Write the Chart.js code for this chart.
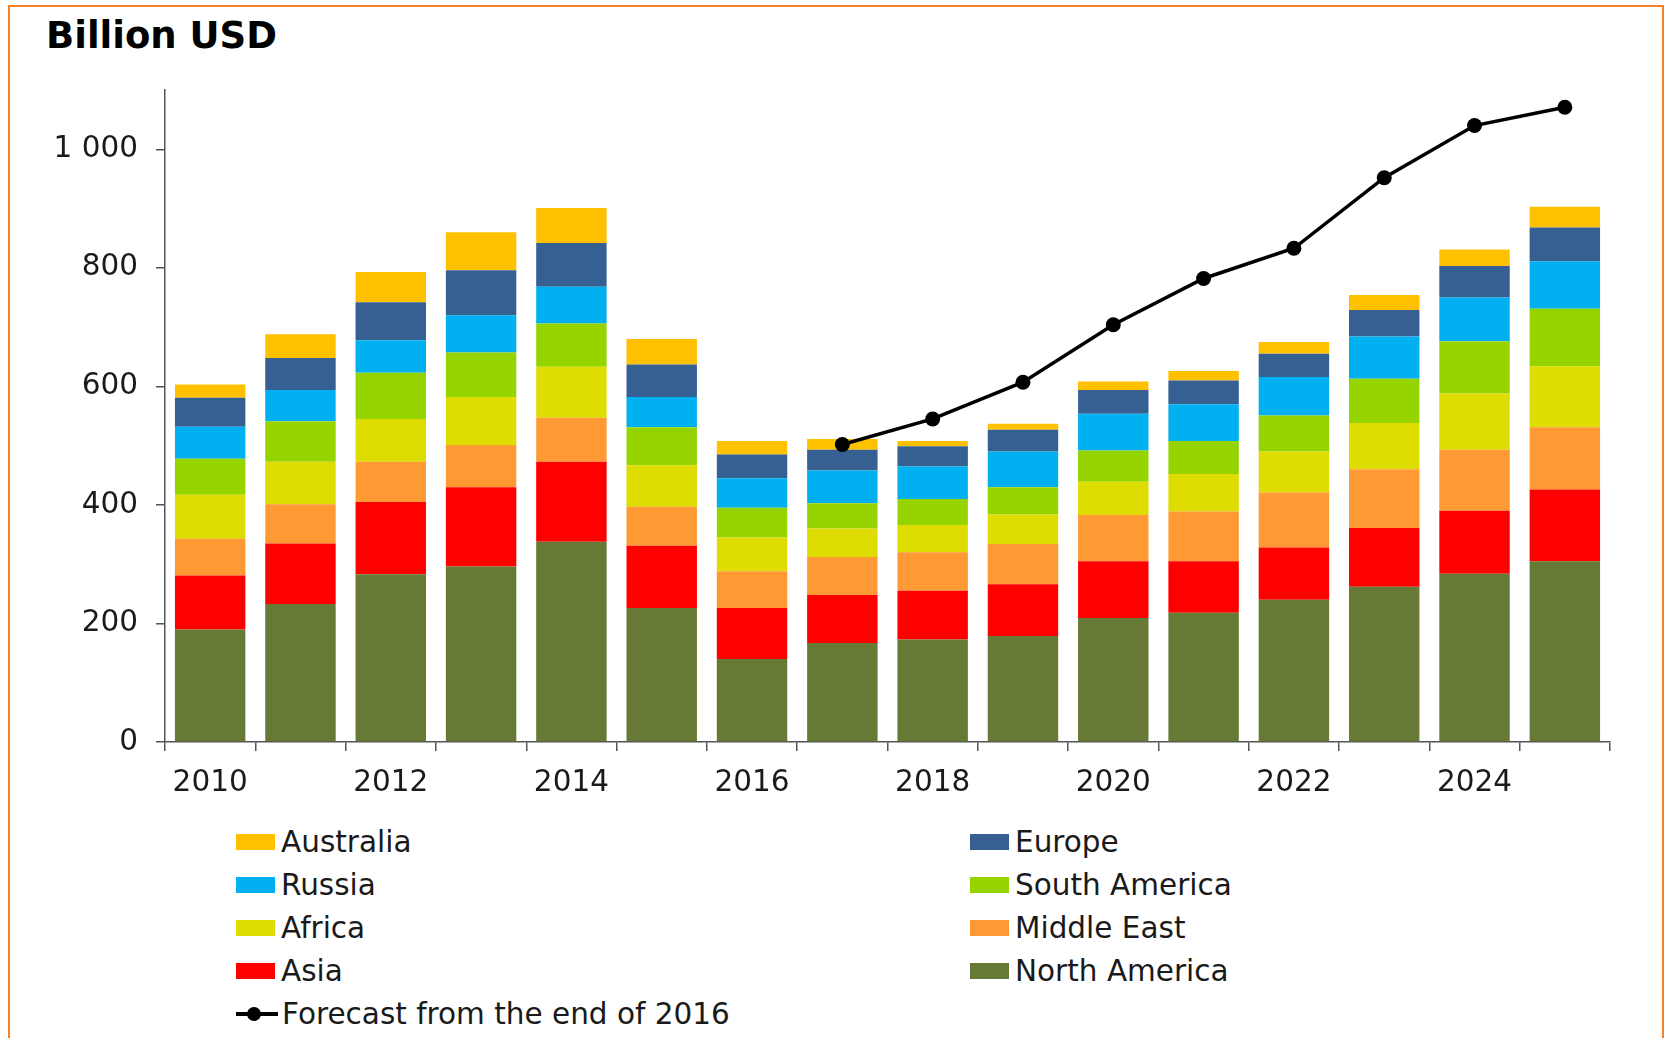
<!DOCTYPE html>
<html>
<head>
<meta charset="utf-8">
<script src="https://cdn.jsdelivr.net/npm/chart.js@4.4.1/dist/chart.umd.min.js"></script>
<style>
  html, body { margin: 0; padding: 0; background: #fff; }
  #page {
    position: relative;
    width: 1669px;
    height: 1038px;
    overflow: hidden;
    font-family: "DejaVu Sans", Verdana, sans-serif;
    color: #1a1a1a;
  }
  #frame {
    position: absolute;
    left: 8px; top: 5px;
    width: 1656px; height: 1100px;
    border: 2px solid #f5822a;
    box-sizing: border-box;
  }
  #title {
    position: absolute;
    left: 46px; top: 17px;
    font: bold 37px/37px "DejaVu Sans", Verdana, sans-serif;
    color: #000;
  }
  #chartBox {
    position: absolute;
    left: 0; top: 0;
    width: 1669px; height: 810px;
  }
  #legend {
    position: absolute;
    left: 236px; top: 820px;
    display: grid;
    grid-template-columns: 734px auto;
    grid-auto-rows: 43px;
    font-size: 29.5px;
  }
  .item { display: flex; align-items: center; white-space: nowrap; }
  .patch { width: 39px; height: 16px; margin-right: 6px; }
  .lineKey { position: relative; width: 42px; height: 16px; margin-right: 4px; }
  .lineKey::before {
    content: ""; position: absolute; left: 0; right: 0; top: 6px; height: 4px; background: #000;
  }
  .lineKey::after {
    content: ""; position: absolute; left: 11px; top: 1px; width: 14px; height: 14px;
    border-radius: 50%; background: #000;
  }
</style>
</head>
<body>
<div id="page">
  <div id="frame"></div>
  <div id="title">Billion USD</div>
  <div id="chartBox"><canvas id="chart"></canvas></div>
  <div id="legend"></div>
</div>
<script>
const years = ['2010', '2011', '2012', '2013', '2014', '2015', '2016', '2017',
               '2018', '2019', '2020', '2021', '2022', '2023', '2024', '2025'];

// investment by region, billion USD (stacked bottom to top)
const northAmerica = [190, 233, 283, 296, 338, 226, 140, 167, 173, 179, 209, 218, 240, 262, 284, 305];
const asia         = [ 91, 102, 122, 134, 135, 105,  86,  81,  82,  87,  96,  87,  88,  99, 106, 121];
const middleEast   = [ 62,  66,  68,  71,  74,  66,  62,  64,  65,  68,  78,  84,  93,  99, 103, 105];
const africa       = [ 74,  72,  72,  81,  86,  70,  57,  48,  46,  50,  56,  63,  69,  78,  95, 103];
const southAmerica = [ 61,  68,  78,  75,  73,  64,  50,  43,  44,  46,  53,  56,  61,  75,  88,  97];
const russia       = [ 54,  53,  55,  63,  62,  51,  50,  55,  55,  60,  62,  62,  65,  71,  74,  80];
const europe       = [ 49,  54,  64,  76,  74,  55,  40,  35,  34,  37,  40,  40,  39,  45,  53,  57];
const australia    = [ 22,  40,  51,  64,  59,  43,  23,  18,   9,  10,  14,  16,  20,  25,  28,  35];

const forecast = [null, null, null, null, null, null, null, 502, 545, 607, 704, 782, 833, 952, 1040, 1071];

const yTicks = [0, 200, 400, 600, 800, 1000];

const regions = [
  { label: 'North America', data: northAmerica, color: '#667a35' },
  { label: 'Asia',          data: asia,         color: '#ff0000' },
  { label: 'Middle East',   data: middleEast,   color: '#ff9933' },
  { label: 'Africa',        data: africa,       color: '#dedc00' },
  { label: 'South America', data: southAmerica, color: '#96d400' },
  { label: 'Russia',        data: russia,       color: '#00b0f0' },
  { label: 'Europe',        data: europe,       color: '#376092' },
  { label: 'Australia',     data: australia,    color: '#ffc000' }
];

// legend reads top of the stack first, two per row
const legendOrder = ['Australia', 'Europe', 'Russia', 'South America',
                     'Africa', 'Middle East', 'Asia', 'North America'];

const axisColor = '#555';

Chart.defaults.font.family = '"DejaVu Sans", Verdana, sans-serif';
Chart.defaults.font.size = 29.5;
Chart.defaults.color = '#1a1a1a';

const datasets = regions.map(r => ({
  type: 'bar',
  label: r.label,
  data: r.data,
  backgroundColor: r.color,
  borderWidth: 0,
  stack: 'regions',
  order: 1,
  barPercentage: 0.78,
  categoryPercentage: 1
}));

datasets.push({
  type: 'line',
  label: 'Forecast from the end of 2016',
  data: forecast,
  borderColor: '#000',
  backgroundColor: '#000',
  borderWidth: 3.5,
  pointRadius: 7.5,
  pointBackgroundColor: '#000',
  pointBorderWidth: 0,
  tension: 0,
  stack: 'forecast',
  order: 0
});

const chart = new Chart(document.getElementById('chart'), {
  data: { labels: years, datasets },
  options: {
    responsive: true,
    maintainAspectRatio: false,
    animation: false,
    layout: { padding: { top: 90, right: 59, left: 0, bottom: 0 } },
    plugins: { legend: { display: false }, tooltip: { enabled: false } },
    scales: {
      x: {
        stacked: true,
        grid: {
          offset: true,
          drawOnChartArea: false,
          color: axisColor,
          lineWidth: 1.5,
          tickLength: 9
        },
        border: { color: axisColor, width: 1.5 },
        ticks: {
          autoSkip: false,
          maxRotation: 0,
          padding: 15,
          callback: (v, i) => (i % 2 === 0 ? years[i] : '')
        },
        afterFit: scale => { scale.height = 68; }
      },
      y: {
        stacked: true,
        min: 0,
        max: 1100,
        grid: {
          drawOnChartArea: false,
          color: axisColor,
          lineWidth: 1.5,
          tickLength: 9
        },
        border: { color: axisColor, width: 1.5 },
        ticks: {
          padding: 18,
          callback: v => String(v).replace(/\B(?=(\d{3})+(?!\d))/g, ' ')
        },
        afterBuildTicks: scale => {
          scale.ticks = yTicks.map(v => ({ value: v }));
        },
        afterFit: scale => { scale.width = 165; }
      }
    }
  }
});

// html legend built from the chart's own datasets
const legend = document.getElementById('legend');
legendOrder.forEach(name => {
  const ds = chart.data.datasets.find(d => d.label === name);
  const item = document.createElement('div');
  item.className = 'item';
  item.innerHTML = '<span class="patch" style="background:' + ds.backgroundColor + '"></span>' + ds.label;
  legend.appendChild(item);
});
const lineDs = chart.data.datasets.find(d => d.type === 'line');
const lineItem = document.createElement('div');
lineItem.className = 'item';
lineItem.innerHTML = '<span class="lineKey"></span>' + lineDs.label;
legend.appendChild(lineItem);
</script>
</body>
</html>
